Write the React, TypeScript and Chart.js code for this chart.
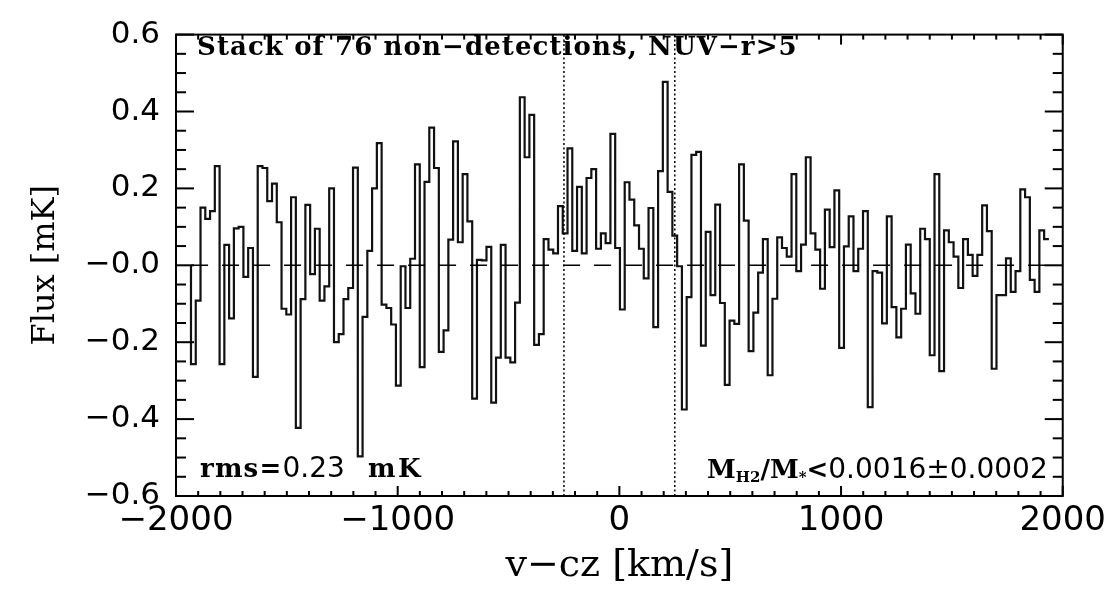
import React, { useEffect, useRef } from "react";
import { Chart, registerables } from "chart.js";

Chart.register(...registerables);

// Channel grid (km/s)
const START_VELOCITY = -1932.4;
const CHANNEL_WIDTH = 21.5;

// Stacked flux per channel [mK], left to right
const fluxValues: number[] = [
  -0.257, -0.092, 0.15, 0.121, 0.141, 0.258, -0.257, 0.053, -0.138, 0.096,
  0.1, -0.03, 0.045, -0.29, 0.258, 0.253, 0.167, 0.2125, 0.112, -0.113,
  -0.128, 0.177, -0.423, -0.088, 0.157, -0.023, 0.095, -0.092, -0.055, 0.2,
  -0.2, -0.179, -0.088, -0.059, 0.254, -0.497, -0.134, 0.0375, 0.2, 0.318,
  -0.1025, -0.111, -0.154, -0.313, -0.0025, -0.111, 0.017, 0.2625, -0.265, 0.217,
  0.358, 0.253, -0.225, -0.169, 0.067, 0.3225, 0.06, 0.237, 0.114, -0.347,
  0.014, 0.013, 0.048, -0.357, -0.24, 0.053, -0.24, -0.2525, -0.097, 0.437,
  0.281, 0.391, -0.207, -0.179, 0.068, 0.041, 0.031, 0.154, 0.083, 0.304,
  0.0375, 0.204, 0.031, 0.227, 0.25, 0.043, 0.083, 0.0575, 0.342, 0.045,
  -0.115, 0.216, 0.171, 0.104, 0.043, -0.034, 0.149, -0.161, 0.245, 0.477,
  0.191, 0.077, -0.0025, -0.375, -0.083, 0.287, 0.295, -0.209, 0.087, -0.0775,
  0.158, -0.098, -0.311, -0.144, -0.1525, 0.2625, 0.116, -0.223, -0.123, -0.019,
  0.068, -0.286, -0.087, 0.0725, 0.045, 0.0225, 0.237, -0.015, 0.054, 0.281,
  0.083, 0.041, -0.061, 0.145, 0.0475, 0.195, -0.215, 0.049, 0.127, -0.015,
  0.043, 0.141, -0.369, -0.015, -0.019, -0.151, 0.127, -0.109, -0.1875, -0.113,
  0.054, -0.073, -0.126, 0.095, 0.068, -0.234, 0.237, -0.275, 0.091, 0.06,
  0.0225, -0.059, 0.068, 0.027, -0.0275, 0.027, 0.156, 0.089, -0.269, -0.0775,
  -0.0775, 0.018, -0.069, -0.015, 0.1975, 0.177, -0.038, -0.069, 0.091, 0.068,
];

const xTickValues = [-2000, -1000, 0, 1000, 2000];
const xTickLabels = ["\u22122000", "\u22121000", "0", "1000", "2000"];
const yTickValues = [-0.6, -0.4, -0.2, 0, 0.2, 0.4, 0.6];
const yTickLabels = ["\u22120.6", "\u22120.4", "\u22120.2", "\u22120.0", "0.2", "0.4", "0.6"];

const windowEdges = [-250, 250];
const zeroLineRange = [-1932, 1940];

const X_MIN = -2000;
const X_MAX = 2000;
const Y_MIN = -0.6;
const Y_MAX = 0.6;

const SANS = "'DejaVu Sans'";
const SERIF = "'DejaVu Serif'";

type Run = { text: string; font: string; dy?: number; spacing?: number };

function drawRuns(ctx: CanvasRenderingContext2D, x: number, y: number, runs: Run[]) {
  let cx = x;
  for (const r of runs) {
    ctx.font = r.font;
    (ctx as any).letterSpacing = `${r.spacing || 0}px`;
    ctx.fillText(r.text, cx, y + (r.dy || 0));
    cx += ctx.measureText(r.text).width;
  }
  (ctx as any).letterSpacing = "0px";
}

const idlPlugin = {
  id: "idlFrame",
  afterDraw(chart: any) {
    const { ctx, chartArea: a, scales } = chart;
    const xs = scales.x;
    const ys = scales.y;
    ctx.save();
    ctx.strokeStyle = "#000";
    ctx.fillStyle = "#000";
    ctx.lineWidth = 2;
    ctx.strokeRect(a.left, a.top, a.right - a.left, a.bottom - a.top);

    const seg = (x1: number, y1: number, x2: number, y2: number) => {
      ctx.beginPath();
      ctx.moveTo(x1, y1);
      ctx.lineTo(x2, y2);
      ctx.stroke();
    };
    // x ticks (inside, top and bottom)
    for (let k = -20; k <= 20; k++) {
      const px = xs.getPixelForValue(k * 100);
      const len = k % 10 === 0 ? 10 : 5;
      seg(px, a.bottom, px, a.bottom - len);
      seg(px, a.top, px, a.top + len);
    }
    // y ticks (inside, left and right)
    for (let k = -12; k <= 12; k++) {
      const py = ys.getPixelForValue(k * 0.05);
      const len = k % 4 === 0 ? 18 : 10;
      seg(a.left, py, a.left + len, py);
      seg(a.right, py, a.right - len, py);
    }

    // axis titles
    ctx.textBaseline = "alphabetic";
    ctx.textAlign = "center";
    ctx.font = `32px ${SERIF}`;
    ctx.save();
    ctx.translate(54, (a.top + a.bottom) / 2);
    ctx.rotate(-Math.PI / 2);
    ctx.fillText("Flux [mK]", 0, 0);
    ctx.restore();
    ctx.font = `38px ${SERIF}`;
    ctx.fillText("v\u2212cz [km/s]", (a.left + a.right) / 2, 576);

    // annotations
    ctx.textAlign = "left";
    const bold = `bold 26px ${SERIF}`;
    const sans = `28px ${SANS}`;
    drawRuns(ctx, a.left + 21, 55, [
      { text: "Stack of 76 non\u2212detections, NUV\u2212r>5", font: bold, spacing: 1.1 },
    ]);
    drawRuns(ctx, a.left + 24, 477, [
      { text: "rms=", font: bold, spacing: 1.2 },
      { text: "0.23", font: sans },
      { text: "  mK", font: bold, spacing: 2.5 },
    ]);
    const sub = `bold 15px ${SERIF}`;
    drawRuns(ctx, 707, 478, [
      { text: "M", font: bold },
      { text: "H2", font: sub, dy: 4 },
      { text: "/M", font: bold },
      { text: "*", font: sub, dy: 4 },
      { text: "<", font: bold },
      { text: "0.0016\u00b10.0002", font: sans },
    ]);
    ctx.restore();
  },
};

export default function App() {
  const canvasRef = useRef<HTMLCanvasElement | null>(null);

  useEffect(() => {
    if (!canvasRef.current) return;
    const stepData: { x: number; y: number }[] = [{ x: START_VELOCITY, y: 0 }];
    fluxValues.forEach((v, i) => stepData.push({ x: START_VELOCITY + i * CHANNEL_WIDTH, y: v }));
    stepData.push({
      x: START_VELOCITY + fluxValues.length * CHANNEL_WIDTH,
      y: fluxValues[fluxValues.length - 1],
    });

    const datasets: any[] = [
      {
        data: [
          { x: zeroLineRange[0], y: 0 },
          { x: zeroLineRange[1], y: 0 },
        ],
        borderColor: "#000",
        borderWidth: 1.5,
        borderDash: [17, 14],
        pointRadius: 0,
      },
      ...windowEdges.map((v) => ({
        data: [
          { x: v, y: Y_MIN },
          { x: v, y: Y_MAX },
        ],
        borderColor: "#000",
        borderWidth: 1.5,
        borderDash: [2, 2.5],
        pointRadius: 0,
      })),
      {
        data: stepData,
        stepped: "before",
        borderColor: "#111",
        borderWidth: 2.2,
        pointRadius: 0,
      },
    ];

    const chart = new Chart(canvasRef.current, {
      type: "line",
      data: { datasets },
      plugins: [idlPlugin],
      options: {
        animation: false,
        responsive: false,
        events: [],
        layout: { padding: { top: 14, right: 47, left: 0, bottom: 0 } },
        plugins: { legend: { display: false }, tooltip: { enabled: false } },
        scales: {
          x: {
            type: "linear",
            min: X_MIN,
            max: X_MAX,
            grid: { display: false, drawTicks: false },
            border: { display: false },
            afterFit: (axis: any) => {
              axis.height = 94;
            },
            afterBuildTicks: (axis: any) => {
              axis.ticks = xTickValues.map((v) => ({ value: v }));
            },
            ticks: {
              padding: 5,
              color: "#000",
              font: { family: SANS, size: 34 },
              maxRotation: 0,
              autoSkip: false,
              callback: (value: any) => {
                const i = xTickValues.indexOf(Number(value));
                return i >= 0 ? xTickLabels[i] : "";
              },
            },
          },
          y: {
            type: "linear",
            min: Y_MIN,
            max: Y_MAX,
            grid: { display: false, drawTicks: false },
            border: { display: false },
            afterFit: (axis: any) => {
              axis.width = 176;
            },
            afterBuildTicks: (axis: any) => {
              axis.ticks = yTickValues.map((v) => ({ value: v }));
            },
            ticks: {
              padding: 16,
              color: "#000",
              font: { family: SANS, size: 31 },
              autoSkip: false,
              callback: (value: any) => {
                let best = 0;
                yTickValues.forEach((t, i) => {
                  if (Math.abs(t - Number(value)) < Math.abs(yTickValues[best] - Number(value))) best = i;
                });
                return yTickLabels[best];
              },
            },
          },
        },
      },
    });
    return () => chart.destroy();
  }, []);

  return (
    <div style={{ position: "absolute", left: 0, top: 0, width: 1111, height: 590, background: "#fff" }}>
      <canvas ref={canvasRef} width={1111} height={590} style={{ width: 1111, height: 590, display: "block" }} />
    </div>
  );
}
